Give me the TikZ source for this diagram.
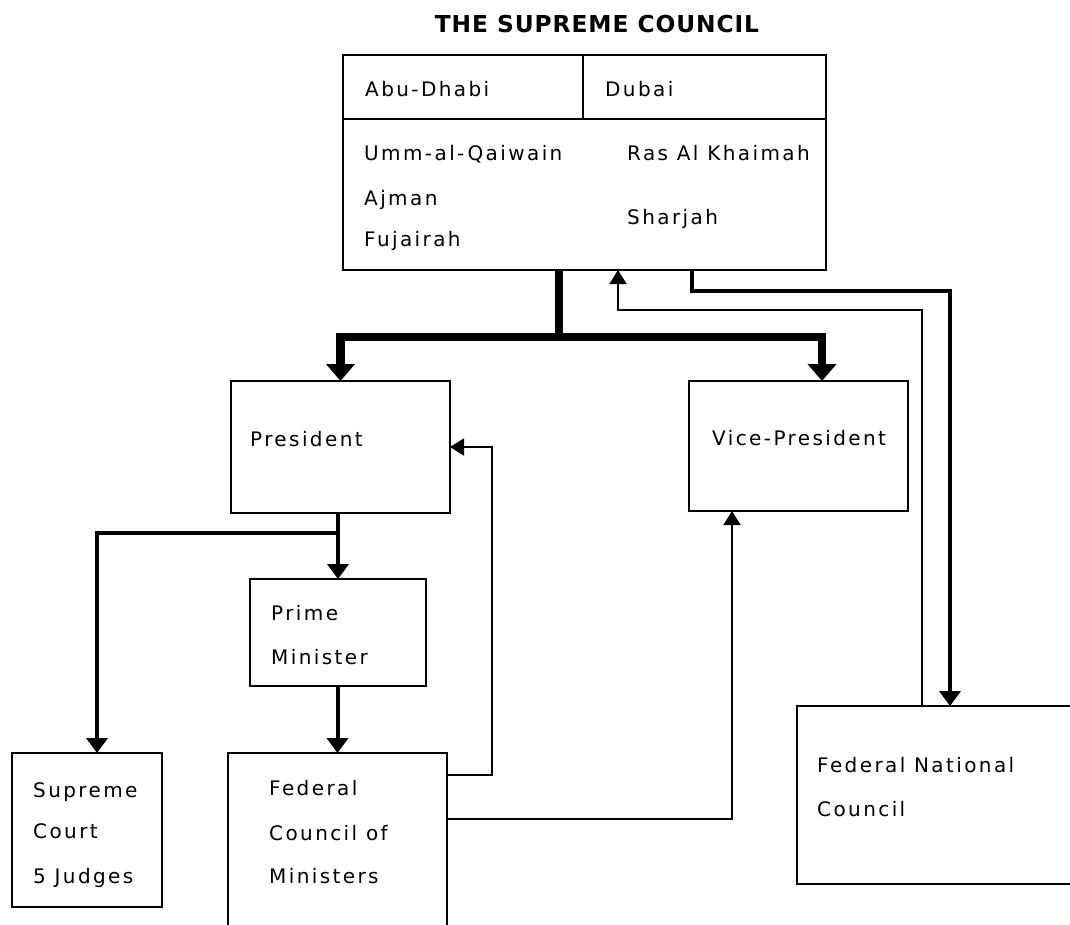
\documentclass[tikz,border=0pt]{standalone}
\usepackage{fontspec}
\usetikzlibrary{arrows.meta}
\newfontfamily\labfont[LetterSpace=12]{DejaVu Sans}
\newfontfamily\titfont[LetterSpace=4]{DejaVu Sans}
\tikzset{
  bigtip/.tip={Triangle[width=28pt,length=17pt]},
  medtip/.tip={Triangle[width=21pt,length=15pt]},
  thintip/.tip={Triangle[width=17pt,length=14pt]},
}
\begin{document}
\begin{tikzpicture}[x=1pt,y=-1pt,
  box/.style={draw, line width=2.2pt, inner sep=0pt, outer sep=0pt, rectangle},
  divline/.style={line width=2.2pt},
  lab/.style={anchor=base west, inner sep=0pt, font=\labfont\fontsize{20}{24}\selectfont},
  titl/.style={anchor=base, inner sep=0pt, font=\titfont\bfseries\fontsize{23.3}{28}\selectfont},
  thickln/.style={line width=8.5pt, line join=miter},
  medln/.style={line width=4pt, line join=miter},
  thinln/.style={line width=1.8pt, line join=miter},
]
\useasboundingbox (0,0) rectangle (1070,924);
\clip (0,0) rectangle (1070,924);

% title
\node[titl] (title) at (597,32) {THE SUPREME COUNCIL};

% boxes
\node[box, minimum width=483pt, minimum height=215pt] (council) at (584.5,162.5) {};
\node[box, minimum width=219pt, minimum height=132pt] (pres) at (340.5,447) {};
\node[box, minimum width=219pt, minimum height=130pt] (vp) at (798.5,446) {};
\node[box, minimum width=176pt, minimum height=107pt] (pm) at (338,632.5) {};
\node[box, minimum width=150pt, minimum height=154pt] (sc) at (87,830) {};
\node[box, minimum width=219pt, minimum height=182pt] (fcm) at (337.5,844) {};
\node[box, minimum width=288pt, minimum height=178pt] (fnc) at (941,795) {};

% council dividers
\coordinate (dv) at (583,119);
\draw[divline] (council.west |- dv) -- (council.east |- dv);
\draw[divline] (dv) -- (dv |- council.north);

% council texts
\node[lab] (tabu) at (365,96) {Abu-Dhabi};
\node[lab] (tdub) at (605,96) {Dubai};
\node[lab] (tumm) at (364,160) {Umm-al-Qaiwain};
\node[lab] (tajm) at (364,205) {Ajman};
\node[lab] (tfuj) at (364,246) {Fujairah};
\node[lab] (tras) at (627,160) {Ras Al Khaimah};
\node[lab] (tsha) at (627,224) {Sharjah};

% other texts
\node[lab] (tpres) at (250,446) {President};
\node[lab] (tvp) at (712,445) {Vice-President};
\node[lab] (tpm1) at (271,620) {Prime};
\node[lab] (tpm2) at (271,664) {Minister};
\node[lab] (tsc1) at (33,797) {Supreme};
\node[lab] (tsc2) at (33,838) {Court};
\node[lab] (tsc3) at (33,883) {5 Judges};
\node[lab] (tfc1) at (269,795) {Federal};
\node[lab] (tfc2) at (269,840) {Council of};
\node[lab] (tfc3) at (269,883) {Ministers};
\node[lab] (tfn1) at (817,772) {Federal National};
\node[lab] (tfn2) at (817,816) {Council};

% thick connectors
\coordinate (trunk) at (559,337);
\coordinate (vpin) at (822,381);
\draw[thickln] (council.south -| trunk) -- (trunk);
\draw[thickln, {bigtip}-{bigtip}] (pres.north) -- (pres.north |- trunk) -- (vpin |- trunk) -- (vpin);

% medium connectors
\coordinate (br) at (338,533);
\coordinate (scin) at (97,753);
\draw[medln, -{medtip}] (pres.south -| pm.north) -- (pm.north);
\draw[medln, -{medtip}] (br) -- (br -| scin) -- (scin);
\draw[medln, -{medtip}] (pm.south -| fcm.north) -- (fcm.north);
\coordinate (fnout) at (692,291);
\coordinate (fnin) at (950,706);
\draw[medln, -{medtip}] (council.south -| fnout) -- (fnout) -- (fnout -| fnin) -- (fnin);

% thin connectors
\coordinate (a1) at (492,775);
\draw[thinln, -{thintip}] (fcm.east |- a1) -- (a1) -- (a1 |- pres.east) -- (pres.east);
\coordinate (a2) at (732,819);
\draw[thinln, -{thintip}] (fcm.east |- a2) -- (a2) -- (a2 |- vp.south);
\coordinate (a3) at (922,310);
\coordinate (a4) at (618,310);
\draw[thinln, -{thintip}] (fnc.north -| a3) -- (a3) -- (a4) -- (a4 |- council.south);
\end{tikzpicture}
\end{document}
